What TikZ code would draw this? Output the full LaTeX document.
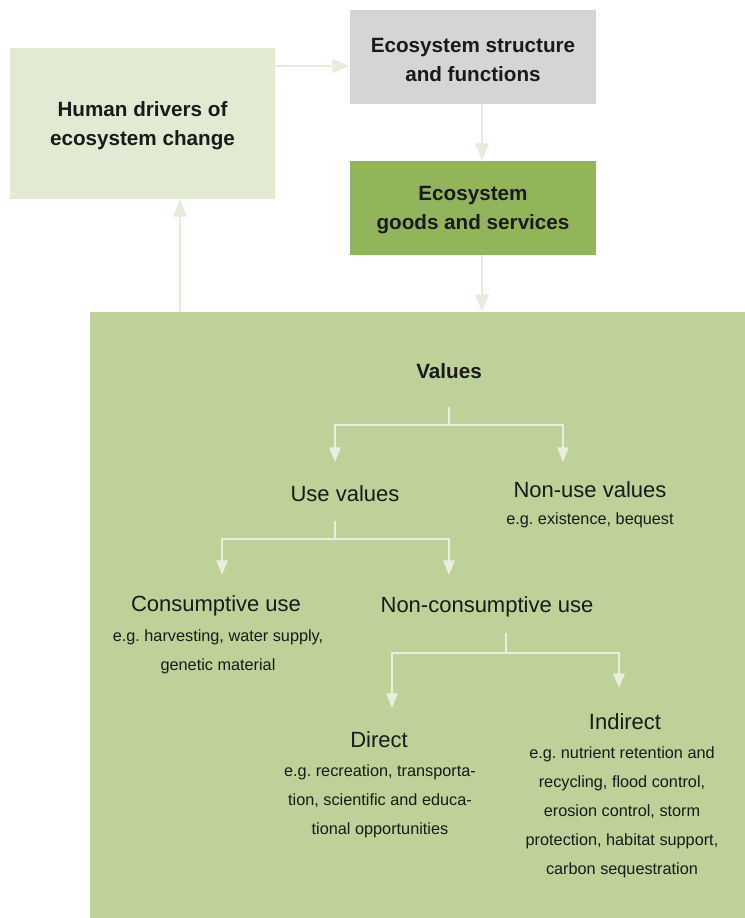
\documentclass[tikz,border=0pt]{standalone}
\usepackage{fontspec}
\setmainfont{Liberation Sans}
\frenchspacing
\usetikzlibrary{arrows.meta}
\definecolor{humanc}{HTML}{E3EAD3}
\definecolor{structc}{HTML}{D4D5D7}
\definecolor{goodsc}{HTML}{93B55A}
\definecolor{valc}{HTML}{BDD198}
\definecolor{arrc}{HTML}{E9EEDF}
\definecolor{arrtop}{HTML}{E6ECDC}
\definecolor{txt}{HTML}{1A1A1A}
\begin{document}
\begin{tikzpicture}[x=0.75pt,y=-0.75pt,
  boxt/.style={inner sep=0pt, align=center, text=txt, font=\bfseries\fontsize{15.5}{21.75}\selectfont},
  big/.style={inner sep=0pt, text=txt, font=\fontsize{16.5}{21.75}\selectfont},
  small/.style={inner sep=0pt, align=center, text=txt, font=\fontsize{12.2}{21.75}\selectfont},
  arr/.style={draw=arrc, line width=1.6pt, -{Triangle[width=8.5pt,length=11pt]}},
  stub/.style={draw=arrc, line width=1.6pt},
  toparr/.style={draw=arrtop, line width=2.2pt, -{Triangle[width=10pt,length=13pt]}}]
\useasboundingbox (0,0) rectangle (745,918);
\fill[white] (0,0) rectangle (745,918);

% boxes
\node[fill=humanc, inner sep=0pt, minimum width=198.75pt, minimum height=113.25pt] (human) at (142.5,123.5) {};
\node[fill=structc, inner sep=0pt, minimum width=184.5pt, minimum height=70.5pt] (struct) at (473,57) {};
\node[fill=goodsc, inner sep=0pt, minimum width=184.5pt, minimum height=70.5pt] (goods) at (473,208) {};
\node[fill=valc, minimum width=491.25pt, minimum height=454.5pt, inner sep=0pt] (vbox) at (417.5,615) {};
\node[boxt] (humant) at (142.5,125.5) {Human drivers of\\ecosystem change};
\node[boxt] (structt) at (473,59.5) {Ecosystem structure\\and functions};
\node[boxt] (goodst) at (473,210.5) {Ecosystem\\goods and services};

% top arrows
\coordinate (hy) at (0,66);
\coordinate (gx) at (482,0);
\coordinate (bx) at (180,0);
\draw[toparr] (human.east |- hy) -- (struct.west |- hy);
\draw[toparr] (struct.south -| gx) -- (goods.north -| gx);
\draw[toparr] (goods.south -| gx) -- (vbox.north -| gx);
\draw[toparr] (vbox.north -| bx) -- (human.south -| bx);

% tree texts
\node[boxt] (values) at (449,371) {Values};
\node[big] (usev) at (345,494) {Use values};
\node[big] (nonuse) at (590,490) {Non-use values};
\node[small] (nonuseeg) at (590,520) {e.g. existence, bequest};
\node[big] (consum) at (216,606) {Consumptive use};
\node[small] (consumeg) at (218,652) {e.g. harvesting, water supply,\\genetic material};
\node[big] (noncons) at (487,607) {Non-consumptive use};
\node[big] (direct) at (379,740) {Direct};
\node[small] (directeg) at (380,801) {e.g. recreation, transporta-\\tion, scientific and educa-\\tional opportunities};
\node[big] (indirect) at (625,722) {Indirect};
\node[small] (indirecteg) at (622,812.5) {e.g. nutrient retention and\\recycling, flood control,\\erosion control, storm\\protection, habitat support,\\carbon sequestration};

% tree connectors
\coordinate (s1) at (449,407); \coordinate (j1) at (449,425);
\coordinate (t1a) at (335,462); \coordinate (t1b) at (563,462);
\draw[stub] (s1) -- (j1);
\draw[arr] (j1) -| (t1a);
\draw[arr] (j1) -| (t1b);

\coordinate (s2) at (335,521); \coordinate (j2) at (335,539);
\coordinate (t2a) at (222,575); \coordinate (t2b) at (449,575);
\draw[stub] (s2) -- (j2);
\draw[arr] (j2) -| (t2a);
\draw[arr] (j2) -| (t2b);

\coordinate (s3) at (506,633); \coordinate (j3) at (506,653);
\coordinate (t3a) at (392,708); \coordinate (t3b) at (619,688);
\draw[stub] (s3) -- (j3);
\draw[arr] (j3) -| (t3a);
\draw[arr] (j3) -| (t3b);
\end{tikzpicture}
\end{document}
